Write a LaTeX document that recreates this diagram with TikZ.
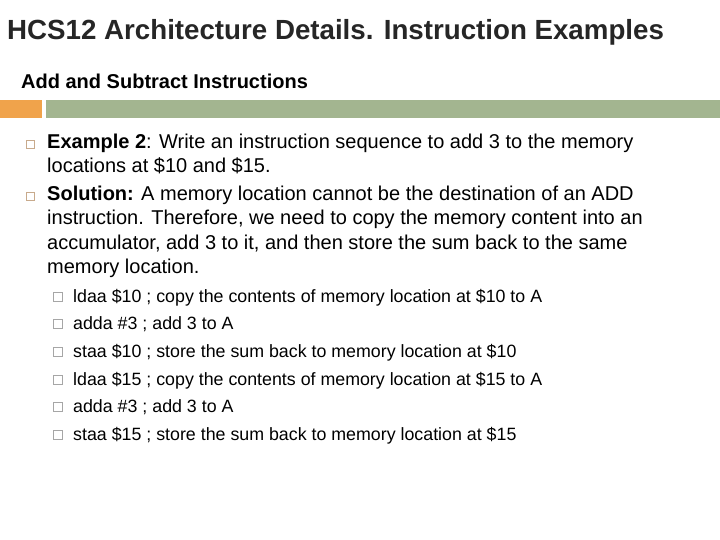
\documentclass[tikz,border=0pt]{standalone}
\usepackage{fontspec}
\setmainfont{Liberation Sans}
\definecolor{barg}{RGB}{163,181,144}
\definecolor{baro}{RGB}{240,163,75}
\definecolor{bul}{RGB}{200,170,140}
\begin{document}
\begin{tikzpicture}[x=1pt,y=-1pt,
  txt/.style={anchor=base west,inner sep=0pt},
  b1/.style={draw=bul,line width=0.7pt,minimum size=8pt,inner sep=0pt},
  b2/.style={draw=gray!70,line width=0.7pt,minimum size=9pt,inner sep=0pt}]
\useasboundingbox (0,0) rectangle (720,540);
\fill[white] (0,0) rectangle (720,540);
\node[txt,font=\fontsize{27.7}{32}\selectfont\bfseries,text=black!85] (title) at (7,40) {HCS12 Architecture Details. Instruction Examples};
\node[txt,font=\fontsize{20}{24}\selectfont\bfseries] (sec) at (21,89) {Add and Subtract Instructions};
\fill[baro] (0,100) rectangle (42,118);
\fill[barg] (46,100) rectangle (720,118);
\begin{scope}[font=\fontsize{20}{24}\selectfont]
\node[b1] (q1) at (30,144) {};
\node[txt] (e1) at (47,149) {\textbf{Example 2}: Write an instruction sequence to add 3 to the memory};
\node[txt] (e2) at (47,173) {locations at \$10 and \$15.};
\node[b1] (q2) at (30,196) {};
\node[txt] (s1) at (47,201) {\textbf{Solution:} A memory location cannot be the destination of an ADD};
\node[txt] (s2) at (47,225) {instruction. Therefore, we need to copy the memory content into an};
\node[txt] (s3) at (47,249) {accumulator, add 3 to it, and then store the sum back to the same};
\node[txt] (s4) at (47,273) {memory location.};
\end{scope}
\begin{scope}[font=\fontsize{17.8}{21}\selectfont]
\foreach \y/\t [count=\i] in {
 302/{ldaa \$10 ; copy the contents of memory location at \$10 to A},
 329/{adda \#3 ; add 3 to A},
 357/{staa \$10 ; store the sum back to memory location at \$10},
 385/{ldaa \$15 ; copy the contents of memory location at \$15 to A},
 412/{adda \#3 ; add 3 to A},
 440/{staa \$15 ; store the sum back to memory location at \$15}}{
 \node[b2] (c\i) at (58,\y-5) {};
 \node[txt] (l\i) at (73,\y) {\t};
}
\end{scope}
\end{tikzpicture}
\end{document}
